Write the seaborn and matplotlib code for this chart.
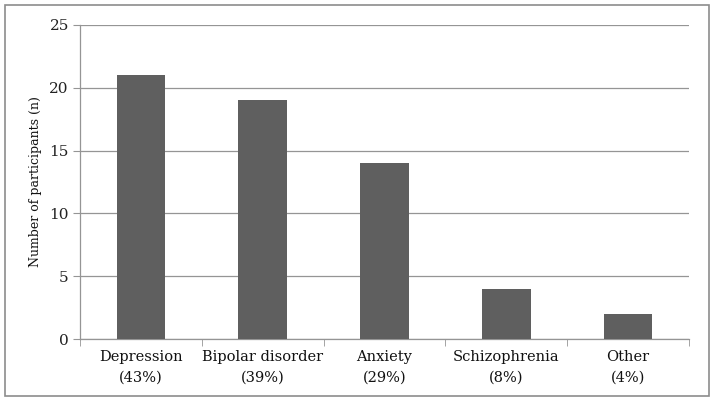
import matplotlib
matplotlib.use("Agg")
import matplotlib.pyplot as plt
import seaborn as sns
import pandas as pd
from matplotlib.patches import Rectangle

categories = ["Depression\n(43%)", "Bipolar disorder\n(39%)", "Anxiety\n(29%)", "Schizophrenia\n(8%)", "Other\n(4%)"]
counts = [21, 19, 14, 4, 2]
yticks = [0, 5, 10, 15, 20, 25]

df = pd.DataFrame({"cat": categories, "n": counts})

sns.set_style("white")
plt.rcParams['font.family'] = ['DejaVu Serif']

fig = plt.figure(figsize=(7.14, 4.01), dpi=100)
ax = fig.add_axes([0.112, 0.1546, 0.853, 0.7831])
sns.barplot(data=df, x="cat", y="n", color="#5f5f5f", width=0.4, saturation=1,
            linewidth=0, ax=ax, zorder=3)

ax.set_ylim(0, 25)
ax.set_xlim(-0.5, 4.5)
ax.set_yticks(yticks)
ax.yaxis.grid(True, color="#959595", linewidth=0.9, zorder=0)
ax.set_axisbelow(True)
for s in ["top", "right"]:
    ax.spines[s].set_visible(False)
for s in ["left", "bottom"]:
    ax.spines[s].set_color("#959595")
    ax.spines[s].set_linewidth(0.9)
ax.tick_params(axis="y", which="major", length=5, color="#959595", labelsize=11,
               labelcolor="#222222", left=True, pad=3)
ax.tick_params(axis="x", which="major", length=0, labelsize=10.5, labelcolor="#111111", pad=8)
for lbl in ax.get_xticklabels():
    lbl.set_linespacing(1.6)
ax.set_xticks([-0.5, 0.5, 1.5, 2.5, 3.5, 4.5], minor=True)
ax.tick_params(axis="x", which="minor", length=5, color="#959595", bottom=True)
ax.set_xlabel("")
ax.set_ylabel("Number of participants (n)", fontsize=9, color="#111111")
ax.yaxis.set_label_coords(-0.062, 0.5)

fig.patches.append(Rectangle((0.007, 0.012), 0.986, 0.976, transform=fig.transFigure,
                             fill=False, edgecolor="#8c8c8c", linewidth=1.2))

fig.savefig("out.png", dpi=100)
